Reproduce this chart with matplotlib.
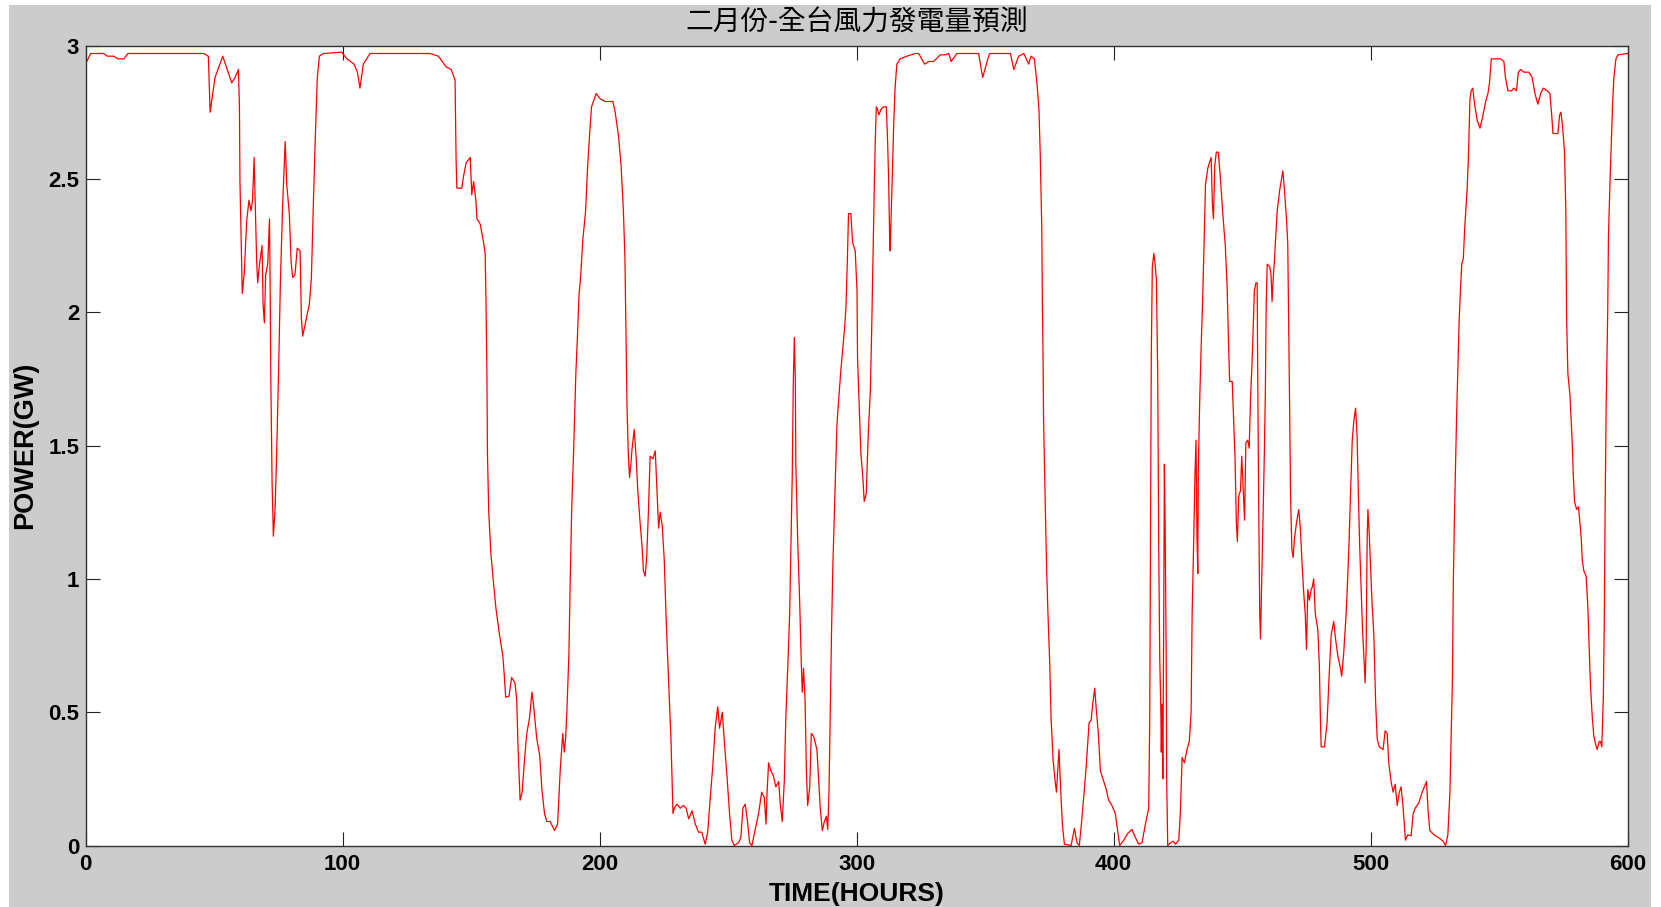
import matplotlib
matplotlib.use("Agg")
import matplotlib.pyplot as plt
from matplotlib.patches import Rectangle

title_text = "二月份-全台風力發電量預測"
x_label = "TIME(HOURS)"
y_label = "POWER(GW)"
x_ticks = [0, 100, 200, 300, 400, 500, 600]
y_ticks = [0, 0.5, 1, 1.5, 2, 2.5, 3]
y_tick_labels = ["0", "0.5", "1", "1.5", "2", "2.5", "3"]

hours = [
    0, 2, 7, 8.5, 11, 12.5, 15, 16.5, 46, 47.8, 48.5, 50.4, 53.4, 56.9, 58.2, 59.5, 59.9, 60.1, 60.7, 61.0,
    61.8, 62.7, 63.6, 64.4, 65.0, 65.6, 66.2, 66.6, 67.0, 67.7, 68.7, 69.1, 69.6, 70.1, 70.9, 71.6, 71.8,
    72.1, 72.6, 73.1, 73.8, 74.4, 75.2, 75.8, 76.7, 77.7, 78.3, 79.3, 80.0, 80.6, 81.5, 82.4, 83.5, 84.0,
    84.5, 85.8, 87.1, 87.9, 88.7, 89.5, 90.2, 91.0, 92.6, 99.7,
    101.7, 104.5, 105.8, 106.8, 108.1, 110.7, 134.1, 137.3, 140.3, 142.3, 143.8, 144.2, 144.5, 146.4, 147.1,
    148.1, 149.7, 150.3, 151.0, 151.9, 152.3, 153.6, 154.9, 155.5, 155.8, 156.2, 156.4, 156.9, 157.7, 158.7,
    159.7, 161.1, 162.4, 162.9, 163.5, 164.8, 165.8, 167.1, 167.8, 168.3, 169.1, 169.9, 170.8, 171.7, 172.8,
    173.7, 174.3, 175.6, 176.7, 177.6, 178.6, 179.5, 180.8, 182.5, 183.7, 184.7, 185.7, 186.3, 186.8, 187.3,
    188.1, 188.6, 189.2, 189.9, 190.8, 191.4, 192.0, 192.7, 193.5, 194.6, 195.3, 196.1, 196.9, 198.7, 200.3,
    202.2, 205.2, 206.1, 207.4, 208.4, 209.3, 209.9, 210.3, 210.7, 211.2, 211.7, 212.2, 212.7, 213.5, 214.3,
    214.9, 215.8, 216.5, 217.1, 217.8, 218.4, 219.1, 219.7, 220.8, 221.7, 222.3, 223.0, 223.6, 224.4, 225.2,
    226.0, 226.9, 227.8, 228.6, 229.1, 230.1, 231.4, 232.7, 233.7, 234.7, 236.0, 237.3, 238.5, 239.8, 241.1,
    242.1, 243.1, 244.1, 245.0, 246.0, 246.7, 247.8, 248.5, 249.6, 250.6, 251.5, 252.4, 254.1, 255.0, 255.8,
    256.7, 257.6, 258.4, 259.3, 260.6, 261.9, 263.1, 264.1, 264.8, 265.2, 265.8, 266.7, 267.7, 268.6, 269.7,
    270.3, 271.1, 271.9, 272.5, 273.3, 274.0, 274.5, 275.0, 275.4, 275.8, 276.2, 276.4, 277.1, 277.9, 278.5,
    278.9, 279.4, 280.0, 280.5, 281.0, 281.8, 282.4, 283.3, 284.6, 285.3, 285.9, 286.7, 287.5, 288.3, 288.8,
    289.3, 289.8, 290.3, 290.8, 291.4, 291.9, 292.4, 293.2, 293.9, 294.7, 295.4, 295.9, 296.4, 296.9, 297.8,
    298.5, 299.5, 300.2, 300.4, 301.1, 301.7, 302.4, 303.0, 303.8,
    304.6, 305.4, 305.9, 306.4, 306.9, 307.3, 307.7, 308.2, 308.7, 309.5, 310.5, 311.6, 312.1, 312.5, 312.9,
    313.1, 313.5, 313.9, 314.4, 315.0, 315.7, 317.0, 319.6, 322.9, 324.2, 326.5, 328.1, 330.0, 332.6, 334.6,
    335.9, 336.8, 339.1, 347.5, 349.1, 350.8, 351.8, 359.9, 361.2, 363.1, 365.1, 367.0, 367.9, 369.2, 370.2,
    371.0, 371.5, 372.1, 372.3, 372.6, 372.8, 373.2, 373.6, 374.0, 374.5, 375.2, 375.7, 376.5, 377.3, 377.8,
    378.3, 378.8, 379.3, 380.1, 380.9, 383.5, 384.8, 385.8, 386.7, 387.5, 388.4, 389.4, 390.5, 391.3, 391.9,
    392.7, 393.3, 394.1, 394.9, 395.9, 397.2, 398.1, 399.4, 400.7, 401.4, 402.4,
    404.0, 405.5, 407.2, 408.5, 409.8, 411.1, 412.4, 413.7, 414.1, 414.4, 414.7, 415.1, 415.7, 416.2, 416.7,
    417.2, 417.6, 418.0, 418.4, 418.6, 418.9, 419.2, 419.5, 419.8, 420.1, 420.5, 420.7, 421.1, 422.1, 423.2,
    424.1, 425.4, 426.0, 426.7, 427.6, 428.6, 429.5, 430.2, 430.6, 431.2, 431.7, 432.1, 432.5, 432.8, 433.0,
    433.6, 434.1, 434.6, 435.1, 435.8, 436.7, 437.3, 438.0, 438.5, 438.9, 439.4, 440.0, 440.8, 441.6, 442.6,
    443.5, 444.2, 444.8, 445.2, 446.2, 446.8, 447.3, 447.8, 448.2, 448.7, 449.4, 449.9, 450.4, 451.0, 451.5,
    452.2, 452.8, 453.3, 453.9, 454.3, 454.8, 455.4, 455.9, 456.1, 456.5, 456.9, 457.2, 457.7, 458.2, 458.7,
    459.1, 459.4, 459.8, 460.8, 461.3, 461.7, 462.1, 462.6, 463.1, 463.7, 464.7, 465.9, 466.5, 467.3, 467.8,
    468.1, 468.5, 468.9, 469.4, 469.9, 470.4, 471.2, 472.1, 472.7, 473.4, 474.0, 474.6, 475.1, 475.6, 476.2,
    476.9, 477.4, 477.9, 478.5, 479.5, 480.1, 480.5, 480.8, 482.1, 483.1, 483.9, 484.7, 485.7, 486.4, 487.3,
    488.3, 488.8, 489.6, 490.4, 490.9, 491.7, 492.2, 492.9, 493.5, 494.2, 494.8, 495.3, 495.8, 496.4, 496.9,
    497.4, 497.9, 498.3, 498.7, 499.0, 499.5, 500.0, 500.6, 501.3, 502.0, 502.6, 503.4,
    504.9, 505.7, 506.5, 507.1, 508.0, 508.8, 509.6, 510.4, 511.2, 511.9, 512.7, 513.6, 514.5, 515.8, 516.6,
    517.4, 518.8, 520.1, 521.8, 522.4, 523.1, 524.7, 527.0, 528.3, 529.2, 530.1, 530.9, 531.4, 531.9, 532.2,
    532.7, 533.1, 533.5, 534.0, 534.5, 535.0, 535.5, 536.1, 536.8, 537.6, 538.1, 538.7, 539.2, 539.8, 540.5,
    541.5, 542.6, 543.6, 544.8, 545.7, 546.3, 547.0, 548.0, 550.6, 551.9, 552.5, 553.5, 554.8, 555.8, 556.8,
    557.5, 558.4, 559.7, 561.6, 562.9, 564.0, 565.1, 566.2, 567.2, 568.8, 569.8, 570.5, 571.0, 572.0, 572.9,
    573.6, 574.1, 574.7, 575.5, 576.0, 576.3, 576.8, 577.6, 578.1, 578.5, 578.9, 579.4, 580.2, 580.9, 581.5,
    582.0, 582.4, 583.0, 583.9, 584.6, 585.1, 585.6, 586.3, 586.9, 587.6, 588.2, 589.0, 589.5, 590.0, 590.6,
    591.0, 591.3, 591.7, 592.3, 592.6, 593.2, 593.7, 594.2, 594.7, 595.5, 596.3, 600.0,
]

power = [
    2.93, 2.97, 2.97, 2.96, 2.96, 2.95, 2.95, 2.97, 2.97, 2.96, 2.75, 2.88, 2.96, 2.86, 2.88, 2.91, 2.77, 2.49, 2.21, 2.07,
    2.15, 2.34, 2.42, 2.38, 2.42, 2.58, 2.34, 2.19, 2.11, 2.18, 2.25, 2.03, 1.96, 2.14, 2.18, 2.35, 2.15,
    1.76, 1.36, 1.16, 1.27, 1.48, 1.81, 2.10, 2.40, 2.64, 2.48, 2.37, 2.19, 2.13, 2.14, 2.24, 2.23, 1.98,
    1.91, 1.97, 2.03, 2.13, 2.42, 2.68, 2.88, 2.96, 2.97, 2.975,
    2.95, 2.93, 2.90, 2.84, 2.93, 2.97, 2.97, 2.96, 2.92, 2.91, 2.87, 2.57, 2.465, 2.465, 2.51,
    2.56, 2.58, 2.44, 2.49, 2.42, 2.35, 2.33, 2.26, 2.22, 2.06, 1.76, 1.47, 1.25, 1.10, 0.99,
    0.89, 0.79, 0.71, 0.645, 0.556, 0.56, 0.63, 0.61, 0.545, 0.37, 0.17, 0.20, 0.32, 0.42, 0.48,
    0.575, 0.53, 0.40, 0.34, 0.21, 0.12, 0.09, 0.09, 0.056, 0.08, 0.28, 0.42, 0.35, 0.40, 0.50,
    0.72, 0.99, 1.27, 1.47, 1.77, 1.905, 2.06, 2.14, 2.27, 2.38, 2.53, 2.66, 2.77, 2.82, 2.80,
    2.79, 2.79, 2.75, 2.66, 2.55, 2.38, 2.20, 1.93, 1.65, 1.47, 1.38, 1.43, 1.49, 1.56, 1.45,
    1.33, 1.21, 1.13, 1.03, 1.01, 1.09, 1.27, 1.46, 1.45, 1.48, 1.35, 1.19, 1.25, 1.20, 1.07,
    0.83, 0.62, 0.40, 0.12, 0.14, 0.155, 0.14, 0.15, 0.14, 0.10, 0.13, 0.08, 0.05, 0.05, 0.005,
    0.05, 0.18, 0.30, 0.44, 0.52, 0.44, 0.50, 0.40, 0.26, 0.12, 0.02, 0.0, 0.01, 0.03, 0.14,
    0.155, 0.09, 0.01, 0.0, 0.06, 0.12, 0.20, 0.18, 0.08, 0.20, 0.31, 0.28, 0.26, 0.22, 0.24,
    0.16, 0.09, 0.24, 0.48, 0.68, 0.87, 1.13, 1.39, 1.73, 1.905, 1.75, 1.43, 1.15, 0.91, 0.69,
    0.575, 0.665, 0.54, 0.28, 0.15, 0.22, 0.42, 0.41, 0.36, 0.24, 0.14, 0.056, 0.09, 0.11, 0.06,
    0.20, 0.50, 0.81, 1.05, 1.25, 1.41, 1.58, 1.69, 1.78, 1.87, 1.945, 2.02, 2.18, 2.37, 2.37,
    2.26, 2.23, 2.08, 1.83, 1.63, 1.47, 1.39, 1.29, 1.32,
    1.55, 1.71, 1.93, 2.20, 2.46, 2.64, 2.77, 2.76, 2.74, 2.76, 2.77, 2.77, 2.64, 2.50, 2.28,
    2.23, 2.36, 2.50, 2.68, 2.84, 2.93, 2.95, 2.96, 2.97, 2.97, 2.93, 2.94, 2.94, 2.965, 2.965,
    2.97, 2.94, 2.97, 2.97, 2.88, 2.94, 2.97, 2.97, 2.91, 2.96, 2.97, 2.93, 2.96, 2.95, 2.86,
    2.76, 2.59, 2.31, 2.06, 1.82, 1.59, 1.39, 1.21, 1.03, 0.87, 0.68, 0.48, 0.32, 0.24, 0.20,
    0.28, 0.36, 0.24, 0.08, 0.005, 0.0, 0.064, 0.01, 0.0, 0.08, 0.18, 0.30, 0.46, 0.47, 0.53,
    0.59, 0.51, 0.42, 0.28, 0.25, 0.21, 0.17, 0.15, 0.12, 0.07, 0.0,
    0.02, 0.045, 0.06, 0.03, 0.005, 0.01, 0.08, 0.14, 0.48, 1.15, 1.83, 2.17, 2.22, 2.18, 2.12,
    1.77, 1.11, 0.70, 0.52, 0.35, 0.53, 0.25, 0.775, 1.43, 1.19, 0.71, 0.24, 0.0, 0.01, 0.016,
    0.005, 0.02, 0.12, 0.33, 0.31, 0.36, 0.39, 0.50, 0.87, 1.14, 1.39, 1.52, 1.15, 1.02, 1.41,
    1.69, 1.87, 2.02, 2.20, 2.48, 2.54, 2.56, 2.58, 2.40, 2.35, 2.55, 2.60, 2.60, 2.50, 2.36,
    2.25, 2.10, 1.87, 1.74, 1.74, 1.58, 1.45, 1.21, 1.14, 1.31, 1.33, 1.46, 1.35, 1.22, 1.51,
    1.52, 1.49, 1.67, 1.81, 1.92, 2.08, 2.11, 2.11, 1.79, 1.27, 0.87, 0.775, 1.01, 1.23, 1.47,
    1.71, 2.02, 2.18, 2.17, 2.14, 2.04, 2.12, 2.19, 2.28, 2.38, 2.46, 2.53, 2.46, 2.35, 2.26,
    2.02, 1.67, 1.31, 1.11, 1.08, 1.15, 1.21, 1.26, 1.19, 1.05, 0.95, 0.87, 0.735, 0.96, 0.92,
    0.96, 0.97, 1.00, 0.87, 0.81, 0.675, 0.48, 0.37, 0.37, 0.46, 0.635, 0.79, 0.84, 0.775, 0.71,
    0.665, 0.635, 0.725, 0.85, 0.95, 1.15, 1.31, 1.52, 1.59, 1.64, 1.53, 1.31, 1.12, 0.95, 0.81,
    0.715, 0.61, 0.735, 1.15, 1.26, 1.17, 1.05, 0.91, 0.79, 0.536, 0.40, 0.37,
    0.36, 0.43, 0.42, 0.31, 0.24, 0.20, 0.23, 0.15, 0.20, 0.22, 0.14, 0.02, 0.04, 0.036, 0.12,
    0.14, 0.16, 0.20, 0.24, 0.13, 0.056, 0.04, 0.026, 0.016, 0.0, 0.04, 0.20, 0.42, 0.635, 0.97,
    1.25, 1.43, 1.61, 1.79, 1.97, 2.08, 2.18, 2.20, 2.34, 2.46, 2.58, 2.80, 2.83, 2.84, 2.78,
    2.72, 2.69, 2.73, 2.79, 2.82, 2.86, 2.95, 2.95, 2.95, 2.94, 2.88, 2.83, 2.83, 2.84, 2.83,
    2.90, 2.91, 2.90, 2.90, 2.88, 2.82, 2.78, 2.82, 2.84, 2.83, 2.82, 2.74, 2.67, 2.67, 2.67,
    2.74, 2.75, 2.70, 2.60, 2.38, 1.98, 1.77, 1.69, 1.59, 1.51, 1.39, 1.29, 1.26, 1.27, 1.21,
    1.15, 1.07, 1.03, 1.01, 0.89, 0.735, 0.60, 0.48, 0.41, 0.38, 0.36, 0.39, 0.39, 0.37, 0.556,
    0.87, 1.27, 1.65, 2.00, 2.29, 2.49, 2.64, 2.78, 2.88, 2.95, 2.965, 2.97,
]

W, H = 1661, 907
fig = plt.figure(figsize=(W / 100, H / 100), dpi=100, facecolor="white")
fig.patches.append(Rectangle((9 / W, 0), (1651 - 9) / W, (H - 5) / H, transform=fig.transFigure,
                             facecolor="#cccccc", edgecolor="none", zorder=-10))
ax = fig.add_axes([85.5 / W, 1 - 845.5 / H, (1627.5 - 85.5) / W, (845.5 - 45.5) / H])
ax.set_zorder(1)
ax.set_facecolor("white")
ax.plot(hours, power, color="#ff0000", linewidth=0.9)

ax.set_xlim(0, 600)
ax.set_ylim(0, 3)
ax.set_xticks(x_ticks)
ax.set_yticks(y_ticks)
ax.set_yticklabels(y_tick_labels)
for lab in ax.get_xticklabels() + ax.get_yticklabels():
    lab.set_fontfamily("Liberation Sans")
    lab.set_fontweight("bold")
    lab.set_fontsize(16)
ax.tick_params(direction="in", length=10, width=0.8, colors="#222222",
               top=True, right=True)
ax.tick_params(axis="x", pad=6)
ax.tick_params(axis="y", pad=4.5)
ax.tick_params(labelcolor="black")
for s in ax.spines.values():
    s.set_color("#333333")
    s.set_linewidth(1.0)

ax.set_xlabel(x_label, family="Liberation Sans", weight="bold", fontsize=19, labelpad=5)
ax.set_ylabel(y_label, family="Liberation Sans", weight="bold", fontsize=19.5, labelpad=7)
ax.set_title(title_text, family=["Noto Sans CJK TC", "DejaVu Sans"], fontsize=20, pad=11)

fig.savefig("out.png", dpi=100, facecolor=fig.get_facecolor())
